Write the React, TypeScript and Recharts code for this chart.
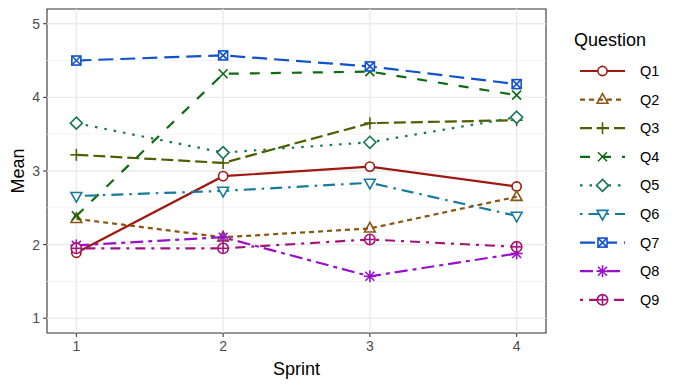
import React from "react";
import { LineChart, Line, XAxis, YAxis, ReferenceLine, ReferenceArea } from "recharts";

const sprints = [1, 2, 3, 4];
const questions = ["Q1", "Q2", "Q3", "Q4", "Q5", "Q6", "Q7", "Q8", "Q9"];

const q1 = [1.89, 2.93, 3.06, 2.79];
const q2 = [2.35, 2.1, 2.22, 2.65];
const q3 = [3.22, 3.11, 3.65, 3.69];
const q4 = [2.39, 4.32, 4.35, 4.03];
const q5 = [3.65, 3.25, 3.39, 3.73];
const q6 = [2.66, 2.73, 2.84, 2.39];
const q7 = [4.5, 4.57, 4.42, 4.18];
const q8 = [1.99, 2.1, 1.57, 1.88];
const q9 = [1.95, 1.95, 2.07, 1.97];

const seriesValues = [q1, q2, q3, q4, q5, q6, q7, q8, q9];
const yTicks = [1, 2, 3, 4, 5];
const yMinor = [1.5, 2.5, 3.5, 4.5];

const colors = ["#9E1A10", "#8B5412", "#4F5E00", "#0E6B12", "#13774F", "#167A9C", "#0F52CC", "#9910CC", "#A5127C"];
const dashes = ["", "5 4", "12 5", "10 11", "2.5 7", "2.5 6 12 6", "15 7", "13 5 4 5", "3 6 10 6"];
const shapes = ["circle", "triangle", "plus", "cross", "diamond", "down", "squarecross", "asterisk", "circleplus"];

const data = sprints.map((s, i) => {
  const row: Record<string, number> = { sprint: s };
  questions.forEach((q, j) => (row[q] = seriesValues[j][i]));
  return row;
});

const FONT = "'Liberation Sans', Arial, Helvetica, sans-serif";

function Marker({ shape, cx, cy, color }: { shape: string; cx: number; cy: number; color: string }) {
  const sw = 1.6;
  const p = { stroke: color, strokeWidth: sw, fill: "none" };
  switch (shape) {
    case "circle":
      return <circle cx={cx} cy={cy} r={4.6} {...p} fill="#fff" />;
    case "triangle":
      return <polygon points={`${cx},${cy - 6} ${cx - 5.4},${cy + 3.6} ${cx + 5.4},${cy + 3.6}`} {...p} />;
    case "down":
      return <polygon points={`${cx},${cy + 6} ${cx - 5.4},${cy - 3.6} ${cx + 5.4},${cy - 3.6}`} {...p} fill="#fff" />;
    case "plus":
      return (
        <g {...p}>
          <line x1={cx - 6} y1={cy} x2={cx + 6} y2={cy} />
          <line x1={cx} y1={cy - 6} x2={cx} y2={cy + 6} />
        </g>
      );
    case "cross":
      return (
        <g {...p}>
          <line x1={cx - 4.5} y1={cy - 4.5} x2={cx + 4.5} y2={cy + 4.5} />
          <line x1={cx - 4.5} y1={cy + 4.5} x2={cx + 4.5} y2={cy - 4.5} />
        </g>
      );
    case "diamond":
      return <polygon points={`${cx},${cy - 6} ${cx + 6},${cy} ${cx},${cy + 6} ${cx - 6},${cy}`} {...p} fill="#fff" />;
    case "squarecross":
      return (
        <g {...p}>
          <rect x={cx - 4.5} y={cy - 4.5} width={9} height={9} fill="#fff" />
          <line x1={cx - 4.5} y1={cy - 4.5} x2={cx + 4.5} y2={cy + 4.5} />
          <line x1={cx - 4.5} y1={cy + 4.5} x2={cx + 4.5} y2={cy - 4.5} />
        </g>
      );
    case "asterisk":
      return (
        <g {...p}>
          <line x1={cx - 6} y1={cy} x2={cx + 6} y2={cy} />
          <line x1={cx} y1={cy - 6} x2={cx} y2={cy + 6} />
          <line x1={cx - 4.5} y1={cy - 4.5} x2={cx + 4.5} y2={cy + 4.5} />
          <line x1={cx - 4.5} y1={cy + 4.5} x2={cx + 4.5} y2={cy - 4.5} />
        </g>
      );
    case "circleplus":
      return (
        <g {...p}>
          <circle cx={cx} cy={cy} r={5.2} fill="#fff" />
          <line x1={cx - 5.2} y1={cy} x2={cx + 5.2} y2={cy} />
          <line x1={cx} y1={cy - 5.2} x2={cx} y2={cy + 5.2} />
        </g>
      );
    default:
      return null;
  }
}

function QuestionLegend() {
  return (
    <svg width={116} height={320} style={{ position: "absolute", left: 560, top: 20 }}>
      <text x={14} y={26} fontSize={18} fontFamily={FONT} fill="#000">
        Question
      </text>
      {questions.map((q, i) => {
        const y = 51 + i * 28.6;
        return (
          <g key={q}>
            <line x1={20} y1={y} x2={65} y2={y} stroke={colors[i]} strokeWidth={2.2} strokeDasharray={dashes[i] || undefined} />
            <Marker shape={shapes[i]} cx={42.5} cy={y} color={colors[i]} />
            <text x={80} y={y + 5} fontSize={14.5} fontFamily={FONT} fill="#000">
              {q}
            </text>
          </g>
        );
      })}
    </svg>
  );
}

const XTick = (props: any) => (
  <text x={props.x} y={props.y + 10} textAnchor="middle" fontSize={14} fontFamily={FONT} fill="#4D4D4D">
    {props.payload.value}
  </text>
);

const YTick = (props: any) => (
  <text x={props.x} y={props.y + 5} textAnchor="end" fontSize={14} fontFamily={FONT} fill="#4D4D4D">
    {props.payload.value}
  </text>
);

export default function App() {
  return (
    <div style={{ position: "absolute", left: 0, top: 0, width: 676, height: 387, background: "#fff", fontFamily: FONT }}>
      <LineChart width={676} height={387} data={data} margin={{ top: 9, right: 130, bottom: 12, left: 17 }}>
        {yMinor.map((v) => (
          <ReferenceLine key={"m" + v} y={v} stroke="#F0F0F0" strokeWidth={0.8} />
        ))}
        {yTicks.map((v) => (
          <ReferenceLine key={"y" + v} y={v} stroke="#EBEBEB" strokeWidth={1.4} />
        ))}
        {sprints.map((v) => (
          <ReferenceLine key={"x" + v} x={v} stroke="#EBEBEB" strokeWidth={1.4} />
        ))}
        <XAxis
          dataKey="sprint"
          type="number"
          domain={[0.8, 4.2]}
          ticks={sprints}
          height={42}
          axisLine={false}
          tickLine={{ stroke: "#333", strokeWidth: 1 }}
          tickSize={4}
          tickMargin={4}
          tick={<XTick />}
          allowDataOverflow
          label={{ value: "Sprint", position: "insideBottom", offset: 0, style: { fill: "#000", fontSize: 18, fontFamily: FONT } }}
        />
        <YAxis
          type="number"
          domain={[0.8, 5.2]}
          ticks={yTicks}
          width={30}
          axisLine={false}
          tickLine={{ stroke: "#333", strokeWidth: 1 }}
          tickSize={4}
          tickMargin={3}
          tick={<YTick />}
          allowDataOverflow
          label={{
            content: (props: any) => {
              const vb = props.viewBox || { x: 17, y: 9, height: 324 };
              const x = vb.x + 7;
              const y = vb.y + vb.height / 2;
              return (
                <text x={x} y={y} transform={`rotate(-90 ${x} ${y})`} textAnchor="middle" fontSize={18} fontFamily={FONT} fill="#000">
                  Mean
                </text>
              );
            },
          }}
        />
        {questions.map((q, i) => (
          <Line
            key={q}
            dataKey={q}
            type="linear"
            stroke={colors[i]}
            strokeWidth={2.2}
            strokeDasharray={dashes[i] || undefined}
            isAnimationActive={false}
            dot={(props: any) => <Marker key={q + props.index} shape={shapes[i]} cx={props.cx} cy={props.cy} color={colors[i]} />}
            activeDot={false}
          />
        ))}
        <ReferenceArea x1={0.8} x2={4.2} y1={0.8} y2={5.2} fill="none" fillOpacity={0} stroke="#333" strokeWidth={1.1} ifOverflow="visible" />
      </LineChart>
      <QuestionLegend />
    </div>
  );
}
